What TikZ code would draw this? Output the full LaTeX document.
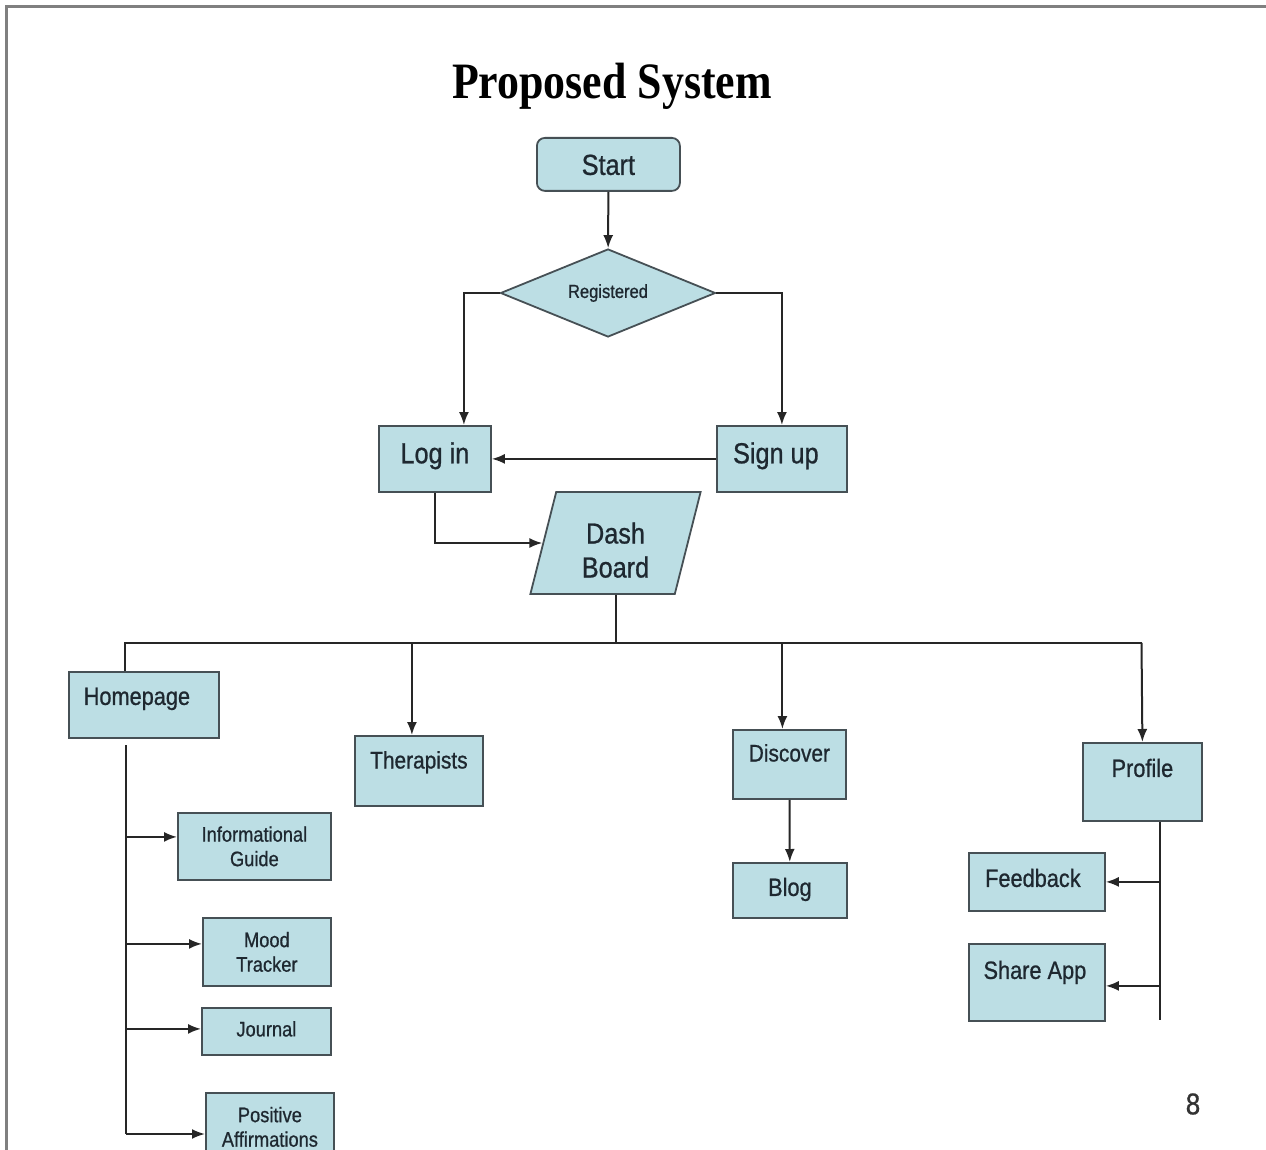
\documentclass[tikz,border=0pt]{standalone}
\usepackage{fontspec}
\setmainfont{Liberation Sans}[FakeStretch=0.87, FakeBold=0.8]
\newfontfamily\headfont{Liberation Serif}[FakeStretch=0.86]
\usetikzlibrary{arrows.meta}
\usetikzlibrary{shapes.geometric}
\definecolor{boxfill}{RGB}{188,222,228}
\definecolor{boxline}{RGB}{70,80,85}
\definecolor{ink}{RGB}{30,40,48}

\begin{document}
\begin{tikzpicture}[x=1pt, y=-1pt,
	shapebase/.style={draw=boxline, fill=boxfill, line width=1.8pt, text=ink},
	entry/.style={shapebase, rectangle, anchor=north west, inner sep=0pt},
	big/.style={font=\fontsize{29}{34}\selectfont},
	mid/.style={font=\fontsize{25}{30}\selectfont},
	small/.style={font=\fontsize{21}{24.5}\selectfont},
	link/.style={draw=black!85, line width=2pt},
	arr/.style={link, -{Latex[length=13pt, width=10pt]}}]
	\clip (0,0) rectangle (1266,1150);
	\fill[white] (0,0) rectangle (1266,1150);
	\draw[gray, line width=3pt] (6,1150) -- (6,7) -- (1266,7);

	\node (title) at (612,86) {\headfont\bfseries\fontsize{51}{60}\selectfont Proposed System};

	\node [entry, big, rounded corners=8pt, minimum width=143pt, text height=37pt, text depth=16pt] (start) at (536,137) {Start};
	\node [shapebase, diamond, aspect=2.4, minimum width=215pt, minimum height=88pt, inner sep=0pt, font=\fontsize{19}{22}\selectfont] (reg) at (608,293) {Registered};
	\node [entry, big, minimum width=112pt, text height=37.4pt, text depth=28.6pt] (login) at (378,425) {Log in};
	\node [entry, big, minimum width=130pt, text height=37.4pt, text depth=28.6pt] (signup) at (716,425) {Sign up\kern12pt};
	\node [shapebase, trapezium, trapezium left angle=78, trapezium right angle=102, trapezium stretches=true, minimum width=171pt, minimum height=102pt, inner sep=0pt, align=center, text height=69pt, text depth=0pt, big] (dash) at (615.5,543) {Dash\\Board};

	\draw[arr] (start) -- (reg);
	\draw[arr] (reg.west) -| ([xshift=29pt]login.north);
	\draw[arr] (reg.east) -| (signup.north);
	\draw[arr] (signup.west) -- (login.east);
	\draw[arr] (login.south) |- (dash.west);

	\node [entry, mid, minimum width=150pt, text height=33pt, text depth=33pt] (home) at (68,671) {Homepage\kern14pt};
	\node [entry, font=\fontsize{24}{28}\selectfont, minimum width=128pt, text height=32.6pt, text depth=37.4pt] (ther) at (354,735) {Therapists};
	\node [entry, font=\fontsize{24}{28}\selectfont, minimum width=113pt, text height=31.6pt, text depth=37.4pt] (disc) at (732,729) {Discover};
	\node [entry, mid, minimum width=114pt, text height=33pt, text depth=22pt] (blog) at (732,862) {Blog};
	\node [entry, mid, minimum width=119pt, text height=34pt, text depth=44pt] (prof) at (1082,742) {Profile};
	\node [entry, mid, minimum width=136pt, text height=34pt, text depth=24pt] (fb) at (968,852) {Feedback\kern8pt};
	\node [entry, mid, minimum width=136pt, text height=35pt, text depth=42pt] (share) at (968,943) {Share App\kern4pt};

	\node [entry, small, align=center, minimum width=153pt, minimum height=67pt] (info) at (177,812) {Informational\\Guide};
	\node [entry, small, align=center, minimum width=128pt, minimum height=68pt] (mood) at (202,917) {Mood\\Tracker};
	\node [entry, small, minimum width=129pt, text height=28.5pt, text depth=18.5pt] (jour) at (201,1007) {Journal};
	\node [entry, small, align=center, minimum width=128pt, minimum height=68pt] (posi) at (205,1092) {Positive\\Affirmations};

	\coordinate (busL) at (125,643);
	\coordinate (busR) at (1141.5,643);
	\draw[link] (dash.south) -- (dash.south |- busL);
	\draw[link] (busL |- home.north) -- (busL) -- (busR);
	\draw[arr] ([xshift=-7pt]ther.north |- busL) -- ([xshift=-7pt]ther.north);
	\draw[arr] ([xshift=-7pt]disc.north |- busL) -- ([xshift=-7pt]disc.north);
	\draw[arr] (busR) -- (prof.north);
	\draw[arr] (disc) -- (blog);

	\coordinate (hTop) at (126,745);
	\coordinate (hBot) at (126,1134);
	\draw[link] (hTop) -- (hBot);
	\draw[arr] ([yshift=9.5pt]info.west -| hTop) -- ([yshift=9.5pt]info.west);
	\draw[arr] ([yshift=8pt]mood.west -| hTop) -- ([yshift=8pt]mood.west);
	\draw[arr] ([yshift=2.5pt]jour.west -| hTop) -- ([yshift=2.5pt]jour.west);
	\draw[arr] (hBot) -- (hBot -| posi.west);

	\coordinate (pBot) at (1160,1020);
	\draw[link] (pBot |- prof.south) -- (pBot);
	\draw[arr] (pBot |- fb.east) -- (fb.east);
	\draw[arr] ([yshift=-3.5pt]share.east -| pBot) -- ([yshift=-3.5pt]share.east);

	\node [font=\fontsize{30}{36}\selectfont, text=black!80] (pg) at (1193,1104) {8};
\end{tikzpicture}
\end{document}
